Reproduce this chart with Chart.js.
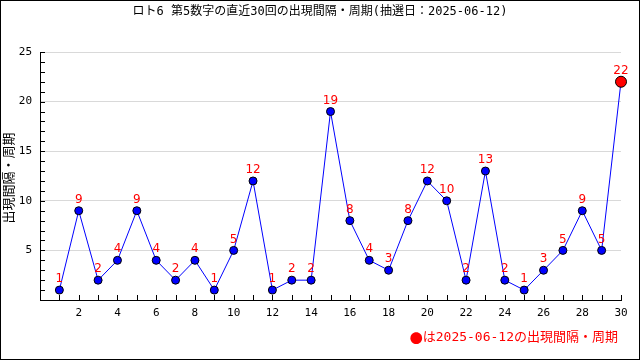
<!DOCTYPE html>
<html>
<head>
<meta charset="utf-8">
<script src="https://cdn.jsdelivr.net/npm/chart.js@4"></script>
<style>
  html, body { margin: 0; padding: 0; background: #fff; }
  canvas { display: block; }
</style>
</head>
<body>
<canvas id="chart" width="640" height="360"></canvas>
<script>
// data
const rounds = [1, 2, 3, 4, 5, 6, 7, 8, 9, 10, 11, 12, 13, 14, 15, 16, 17, 18, 19, 20, 21, 22, 23, 24, 25, 26, 27, 28, 29, 30];
const intervals = [1, 9, 2, 4, 9, 4, 2, 4, 1, 5, 12, 1, 2, 2, 19, 8, 4, 3, 8, 12, 10, 2, 13, 2, 1, 3, 5, 9, 5, 22];

const titleText = "ロト6 第5数字の直近30回の出現間隔・周期(抽選日：2025-06-12)";
const yTitleText = "出現間隔・周期";
const noteMark = "●";
const noteText = "は2025-06-12の出現間隔・周期";

// mono digits first, CJK glyphs fall back to Noto
const cjk = '"DejaVu Sans Mono", "Noto Sans CJK JP", sans-serif';
const last = intervals.length - 1;

// extra drawing: frame, title, inner ticks, value labels, note
const decorPlugin = {
    id: "decor",
    beforeDatasetsDraw(chart) {
        const ctx = chart.ctx;
        const xs = chart.scales.x, ys = chart.scales.y;
        const area = chart.chartArea;
        ctx.save();
        ctx.strokeStyle = "#000";
        ctx.lineWidth = 1;
        ctx.beginPath();
        for (let i = 1; i <= 30; i++) {
            const px = Math.round(xs.getPixelForValue(i)) + 0.5;
            ctx.moveTo(px, area.bottom);
            ctx.lineTo(px, area.bottom - 5);
        }
        for (let j = 1; j <= 25; j++) {
            const py = Math.round(ys.getPixelForValue(j)) + 0.5;
            ctx.moveTo(area.left, py);
            ctx.lineTo(area.left + 5, py);
        }
        ctx.stroke();
        ctx.restore();
    },
    afterDraw(chart) {
        const ctx = chart.ctx;
        const area = chart.chartArea;
        ctx.save();
        // outer frame
        ctx.strokeStyle = "#000";
        ctx.lineWidth = 1;
        ctx.strokeRect(0.5, 0.5, chart.width - 1, chart.height - 1);

        // title
        ctx.fillStyle = "#000";
        ctx.font = "12px " + cjk;
        ctx.textAlign = "center";
        ctx.textBaseline = "middle";
        ctx.fillText(titleText, chart.width / 2, 12);

        // y axis title
        ctx.save();
        ctx.translate(10, (area.top + area.bottom) / 2 + 2);
        ctx.rotate(-Math.PI / 2);
        ctx.font = "13px " + cjk;
        ctx.fillText(yTitleText, 0, 0);
        ctx.restore();

        // value labels
        const meta = chart.getDatasetMeta(0);
        ctx.fillStyle = "#ff0000";
        ctx.font = '12px "DejaVu Sans", sans-serif';
        ctx.textAlign = "center";
        meta.data.forEach((pt, i) => {
            ctx.fillText(String(intervals[i]), pt.x, pt.y - 11);
        });

        // note: big dot + text, right aligned
        ctx.font = "13px " + cjk;
        ctx.textAlign = "right";
        const w = ctx.measureText(noteText).width;
        ctx.fillText(noteText, 618, 338);
        ctx.font = '13px "Noto Sans CJK JP", sans-serif';
        ctx.fillText(noteMark, 618 - w, 338);
        ctx.restore();
    }
};

new Chart(document.getElementById("chart"), {
    type: "line",
    data: {
        datasets: [{
            data: rounds.map((r, i) => ({ x: r, y: intervals[i] })),
            borderColor: "#0000ff",
            borderWidth: 1,
            tension: 0,
            clip: false,
            pointRadius: intervals.map((v, i) => i === last ? 5.5 : 4),
            pointBackgroundColor: intervals.map((v, i) => i === last ? "#ff0000" : "#0000ff"),
            pointBorderColor: "#000",
            pointBorderWidth: 1
        }]
    },
    options: {
        responsive: false,
        animation: false,
        devicePixelRatio: 1,
        layout: { padding: { top: 52, right: 19, left: 0, bottom: 0 } },
        plugins: {
            legend: { display: false },
            title: { display: false },
            tooltip: { enabled: false }
        },
        scales: {
            x: {
                type: "linear",
                min: 0,
                max: 30,
                afterFit: s => { s.height = 60; },
                grid: { display: false, drawTicks: false },
                border: { color: "#000" },
                ticks: {
                    stepSize: 2,
                    padding: 7,
                    color: "#000",
                    font: { family: "DejaVu Sans Mono", size: 11 },
                    callback: v => v === 0 ? "" : v,
                    maxRotation: 0,
                    autoSkip: false
                }
            },
            y: {
                min: 0,
                max: 25,
                afterFit: s => { s.width = 40; },
                grid: { color: ctx => ctx.tick.value === 0 ? "rgba(0,0,0,0)" : "#d9d9d9", drawTicks: false },
                border: { color: "#000" },
                ticks: {
                    stepSize: 5,
                    padding: 8,
                    color: "#000",
                    font: { family: "DejaVu Sans Mono", size: 11 },
                    callback: v => v === 0 ? "" : v
                }
            }
        }
    },
    plugins: [decorPlugin]
});
</script>
</body>
</html>
